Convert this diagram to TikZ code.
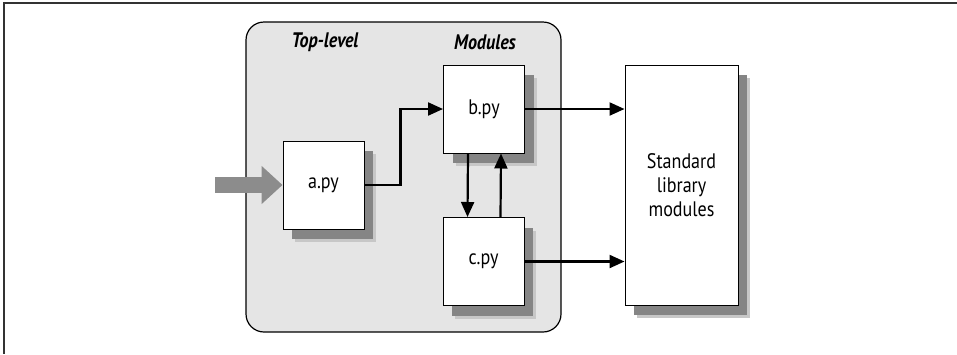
\documentclass[tikz,border=0pt]{standalone}
\usepackage{fontspec}
\setmainfont{PT Sans}[FakeStretch=0.86]
\usetikzlibrary{shadows}
\usetikzlibrary{arrows.meta}
\usetikzlibrary{positioning}
\tikzset{pybox/.style={draw=black, fill=white, line width=1pt, rectangle,
    minimum width=81pt, minimum height=88pt, inner sep=0pt,
    font=\fontsize{21}{24}\selectfont,
    drop shadow={shadow xshift=12pt, shadow yshift=-13pt, fill=black!22, opacity=1},
    drop shadow={shadow xshift=9pt, shadow yshift=-10pt, fill=black!48, opacity=1}}}
\tikzset{flow/.style={line width=2.2pt, -{Triangle[length=15pt, width=13pt]}}}
\tikzset{heading/.style={font=\fontsize{21}{24}\selectfont\bfseries\itshape}}

\begin{document}
\begin{tikzpicture}[x=1pt, y=-1pt]
\useasboundingbox (0,0) rectangle (957,354);
% frame
\draw[black!80, line width=1.5pt] (957,3) -- (4,3) -- (4,354);
% top-level and modules area
\draw[fill=black!10, line width=1.2pt, rounded corners=18pt] (246,22) rectangle (561,332);
\node[heading] (top) at (325,42) {Top-level};
\node[heading] (mods) at (485,42) {Modules};
% boxes
\node[pybox] (apy) at (323.5,185) {a.py};
\node[pybox] (bpy) at (484,109) {b.py};
\node[pybox] (cpy) at (483.5,261.5) {c.py};
\node[pybox, minimum width=113pt, minimum height=240pt, align=center] (stdlib) at (681.5,185) {Standard\\library\\modules};
% arrows
\coordinate (in) at (215,185);
\draw[line width=16pt, color=black!45, -{Triangle[length=21pt, width=37pt]}] (in) -- (apy.west);
\draw[flow] (apy.east) -- ++(36,0) |- (bpy.west);
\draw[flow] ([xshift=-16pt]bpy.south) -- ([xshift=-16pt]cpy.north);
\draw[flow] ([xshift=17pt]cpy.north) -- ([xshift=17pt]bpy.south);
\draw[flow] (bpy.east) -- (bpy.east -| stdlib.west);
\draw[flow] (cpy.east) -- (cpy.east -| stdlib.west);
\end{tikzpicture}
\end{document}
